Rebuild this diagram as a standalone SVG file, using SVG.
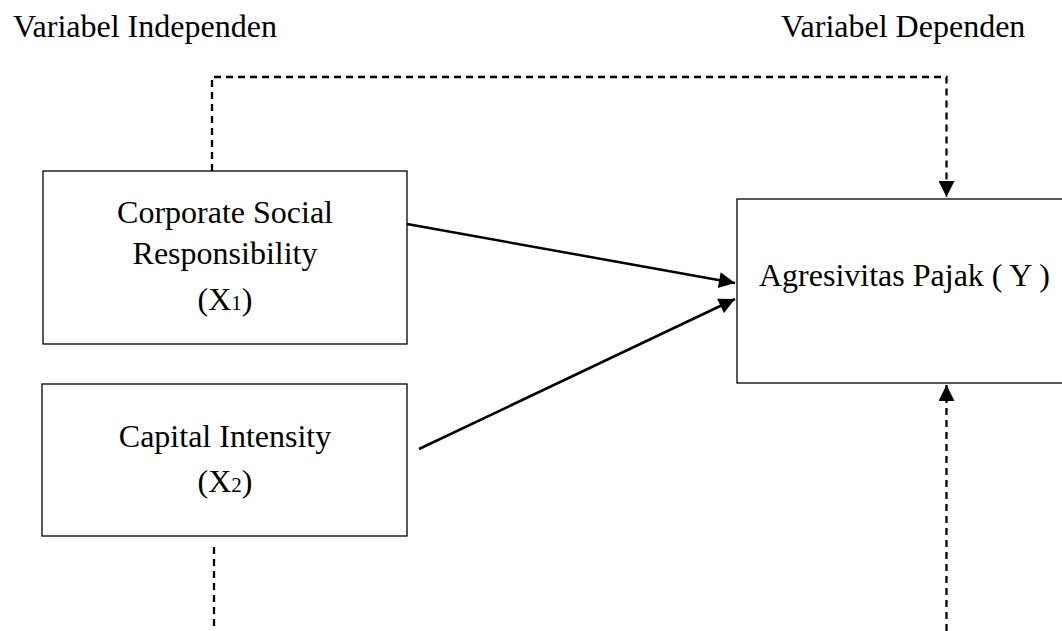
<svg xmlns="http://www.w3.org/2000/svg" width="1062" height="631" viewBox="0 0 1062 631">
<style>
text{font-family:"Liberation Serif","Times New Roman",serif;font-size:32px;fill:#000}
.c{text-anchor:middle}
.box{fill:#fff;stroke:#000;stroke-width:1.3}
.sol{fill:none;stroke:#000;stroke-width:2.5}
.dash{fill:none;stroke:#000;stroke-width:2.3;stroke-dasharray:7,5}
</style>
<defs>
<marker id="ah" viewBox="0 0 10 10" refX="10" refY="5" markerWidth="17" markerHeight="16" markerUnits="userSpaceOnUse" orient="auto">
<path d="M0,0 L10,5 L0,10 z" fill="#000"/>
</marker>
</defs>
<rect width="1062" height="631" fill="#fff"/>
<text x="13" y="37">Variabel Independen</text>
<text x="781" y="37">Variabel Dependen</text>
<g id="x1">
<rect class="box" x="43" y="171" width="364" height="173"/>
<text class="c" x="225" y="223">Corporate Social</text>
<text class="c" x="225" y="264">Responsibility</text>
<text class="c" x="225" y="310">(X<tspan font-size="21">1</tspan>)</text>
</g>
<g id="x2">
<rect class="box" x="42" y="384" width="365" height="152"/>
<text class="c" x="225" y="447">Capital Intensity</text>
<text class="c" x="225" y="492">(X<tspan font-size="21">2</tspan>)</text>
</g>
<g id="y">
<rect class="box" x="737" y="199" width="340" height="184"/>
<text x="759" y="286">Agresivitas Pajak ( Y )</text>
</g>
<g id="connectors">
<line class="sol" x1="407" y1="224" x2="735" y2="283" marker-end="url(#ah)"/>
<line class="sol" x1="419" y1="449" x2="735" y2="299" marker-end="url(#ah)"/>
<polyline class="dash" points="212,171 212,77 946.5,77 946.5,197" marker-end="url(#ah)"/>
<line class="dash" x1="214" y1="547" x2="214" y2="631"/>
<line class="dash" x1="946.5" y1="631" x2="946.5" y2="385" marker-end="url(#ah)"/>
</g>
</svg>
